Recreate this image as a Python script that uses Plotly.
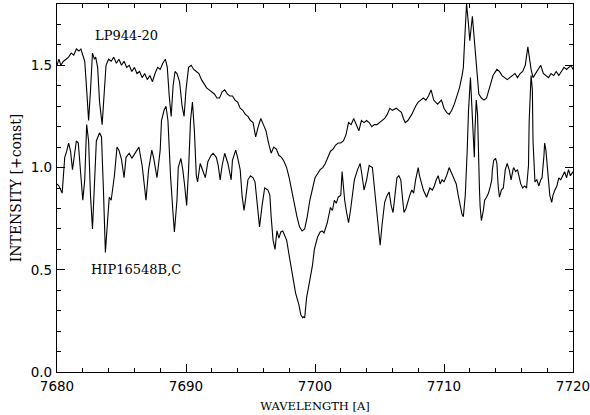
import plotly.graph_objects as go

# LP944-20 (upper spectrum)
lp_wave = [7680.0, 7680.15, 7680.3, 7680.5, 7680.7, 7680.9, 7681.1, 7681.3, 7681.5, 7681.7, 7681.85,
           7682.0, 7682.15, 7682.3, 7682.45, 7682.6, 7682.75, 7682.9, 7683.0, 7683.15, 7683.3, 7683.5,
           7683.65, 7683.8, 7684.0, 7684.2, 7684.4, 7684.6, 7684.8, 7685.0, 7685.2, 7685.4, 7685.6,
           7685.8, 7686.0, 7686.2, 7686.4, 7686.6, 7686.8, 7687.0, 7687.2, 7687.4, 7687.6, 7687.8,
           7688.0, 7688.2, 7688.4, 7688.55, 7688.7, 7688.85, 7689.0, 7689.15, 7689.3, 7689.5, 7689.7,
           7689.85, 7690.0, 7690.2, 7690.4, 7690.6, 7690.8, 7691.0, 7691.2, 7691.4, 7691.6, 7691.8,
           7692.0, 7692.2, 7692.4, 7692.6, 7692.8, 7693.0, 7693.2, 7693.4, 7693.6, 7693.8, 7694.0,
           7694.2, 7694.4, 7694.6, 7694.8, 7695.0, 7695.2, 7695.4, 7695.6, 7695.8, 7696.0, 7696.2,
           7696.4, 7696.6, 7696.8, 7697.0, 7697.2, 7697.4, 7697.6, 7697.8, 7698.0, 7698.2, 7698.4,
           7698.6, 7698.8, 7699.0, 7699.2, 7699.4, 7699.6, 7699.8, 7700.0, 7700.2, 7700.4, 7700.6,
           7700.8, 7701.0, 7701.2, 7701.4, 7701.6, 7701.8, 7702.0, 7702.2, 7702.4, 7702.6, 7702.8,
           7703.0, 7703.2, 7703.4, 7703.6, 7703.8, 7704.0, 7704.2, 7704.4, 7704.6, 7704.8, 7705.0,
           7705.2, 7705.4, 7705.6, 7705.8, 7706.0, 7706.3, 7706.5, 7706.7, 7706.85, 7707.0, 7707.2,
           7707.5, 7707.8, 7708.0, 7708.2, 7708.4, 7708.6, 7708.8, 7709.0, 7709.2, 7709.5, 7709.8,
           7710.0, 7710.2, 7710.4, 7710.6, 7710.8, 7711.0, 7711.2, 7711.4, 7711.5, 7711.6, 7711.75,
           7711.9, 7712.0, 7712.2, 7712.3, 7712.5, 7712.7, 7712.9, 7713.1, 7713.3, 7713.5, 7713.8,
           7714.1, 7714.3, 7714.5, 7714.7, 7714.9, 7715.1, 7715.3, 7715.5, 7715.7, 7715.9, 7716.1,
           7716.3, 7716.5, 7716.6, 7716.75, 7716.9, 7717.1, 7717.3, 7717.5, 7717.7, 7717.9, 7718.1,
           7718.3, 7718.5, 7718.7, 7718.9, 7719.1, 7719.3, 7719.5, 7719.7, 7719.85, 7720.0]
lp_flux = [1.50, 1.53, 1.50, 1.52, 1.53, 1.54, 1.56, 1.55, 1.58, 1.57, 1.58,
           1.55, 1.52, 1.38, 1.23, 1.38, 1.56, 1.53, 1.54, 1.49, 1.32, 1.21,
           1.38, 1.50, 1.53, 1.52, 1.54, 1.51, 1.53, 1.50, 1.52, 1.49, 1.50,
           1.47, 1.49, 1.46, 1.47, 1.44, 1.46, 1.43, 1.45, 1.42, 1.46, 1.49,
           1.48, 1.51, 1.53, 1.49, 1.35, 1.25, 1.40, 1.47, 1.46, 1.42, 1.30,
           1.25, 1.38, 1.49, 1.50, 1.48, 1.47, 1.46, 1.43, 1.41, 1.39, 1.38,
           1.37, 1.36, 1.34, 1.34, 1.37, 1.38, 1.36, 1.35, 1.35, 1.33, 1.32,
           1.29, 1.28, 1.26, 1.25, 1.23, 1.22, 1.15, 1.20, 1.24, 1.21, 1.18,
           1.12, 1.07, 1.10, 1.09, 1.06, 1.05, 1.03, 1.00, 0.95, 0.88, 0.81,
           0.76, 0.71, 0.69, 0.70, 0.76, 0.84, 0.90, 0.95, 0.97, 0.99, 1.00,
           1.02, 1.05, 1.08, 1.09, 1.11, 1.12, 1.12, 1.13, 1.16, 1.22, 1.21,
           1.24, 1.21, 1.18, 1.23, 1.22, 1.23, 1.22, 1.20, 1.21, 1.21, 1.22,
           1.23, 1.24, 1.26, 1.29, 1.28, 1.29, 1.28, 1.27, 1.24, 1.22, 1.23,
           1.26, 1.30, 1.32, 1.33, 1.34, 1.33, 1.35, 1.38, 1.33, 1.31, 1.33,
           1.29, 1.27, 1.26, 1.28, 1.31, 1.35, 1.39, 1.45, 1.49, 1.62, 1.80,
           1.70, 1.62, 1.74, 1.66, 1.48, 1.36, 1.34, 1.33, 1.34, 1.38, 1.45,
           1.48, 1.47, 1.45, 1.44, 1.43, 1.44, 1.45, 1.46, 1.44, 1.46, 1.47,
           1.50, 1.59, 1.54, 1.48, 1.44, 1.46, 1.48, 1.50, 1.46, 1.45, 1.44,
           1.46, 1.45, 1.47, 1.45, 1.47, 1.49, 1.48, 1.49, 1.50, 1.48]

# HIP16548B,C (lower spectrum)
hip_wave = [7680.0, 7680.15, 7680.4, 7680.6, 7680.75, 7680.9, 7681.05, 7681.2, 7681.35, 7681.5, 7681.65,
            7681.8, 7682.0, 7682.15, 7682.3, 7682.45, 7682.6, 7682.75, 7682.9, 7683.05, 7683.3, 7683.35,
            7683.45, 7683.6, 7683.75, 7683.9, 7684.05, 7684.2, 7684.45, 7684.65, 7684.8, 7685.0, 7685.2,
            7685.35, 7685.6, 7685.8, 7686.1, 7686.35, 7686.6, 7686.9, 7687.1, 7687.35, 7687.5, 7687.75,
            7688.0, 7688.1, 7688.3, 7688.45, 7688.6, 7688.8, 7689.0, 7689.1, 7689.3, 7689.4, 7689.6,
            7689.75, 7689.9, 7690.05, 7690.2, 7690.35, 7690.5, 7690.65, 7690.8, 7690.9, 7691.1, 7691.35,
            7691.5, 7691.7, 7691.95, 7692.1, 7692.35, 7692.5, 7692.65, 7692.8, 7693.0, 7693.25, 7693.5,
            7693.6, 7693.85, 7694.0, 7694.2, 7694.35, 7694.5, 7694.65, 7694.8, 7695.0, 7695.2, 7695.35,
            7695.5, 7695.7, 7695.9, 7696.1, 7696.35, 7696.5, 7696.6, 7696.75, 7696.9, 7697.05, 7697.2,
            7697.35, 7697.5, 7697.65, 7697.8, 7698.05, 7698.3, 7698.5, 7698.75, 7698.9, 7699.05, 7699.1,
            7699.2, 7699.35, 7699.5, 7699.65, 7699.8, 7699.95, 7700.2, 7700.4, 7700.55, 7700.7, 7700.95,
            7701.2, 7701.35, 7701.5, 7701.65, 7701.8, 7702.0, 7702.1, 7702.3, 7702.45, 7702.6, 7702.75,
            7702.9, 7703.05, 7703.3, 7703.5, 7703.65, 7703.8, 7704.0, 7704.2, 7704.45, 7704.6, 7704.75,
            7704.9, 7705.05, 7705.2, 7705.4, 7705.6, 7705.75, 7705.9, 7706.05, 7706.2, 7706.35, 7706.5,
            7706.65, 7706.8, 7706.9, 7707.05, 7707.2, 7707.35, 7707.5, 7707.65, 7707.8, 7708.0, 7708.1,
            7708.25, 7708.4, 7708.65, 7708.9, 7709.1, 7709.25, 7709.4, 7709.55, 7709.7, 7709.85, 7710.0,
            7710.2, 7710.4, 7710.55, 7710.7, 7710.95, 7711.1, 7711.25, 7711.4, 7711.5, 7711.65, 7711.8,
            7711.9, 7712.05, 7712.1, 7712.2, 7712.3, 7712.35, 7712.4, 7712.5, 7712.6, 7712.65, 7712.75,
            7712.8, 7712.9, 7713.05, 7713.15, 7713.3, 7713.45, 7713.6, 7713.7, 7713.75, 7713.85, 7714.0,
            7714.1, 7714.2, 7714.3, 7714.45, 7714.6, 7714.75, 7714.9, 7715.05, 7715.2, 7715.35, 7715.4,
            7715.55, 7715.7, 7715.95, 7716.1, 7716.25, 7716.4, 7716.55, 7716.6, 7716.75, 7716.85, 7716.9,
            7717.05, 7717.2, 7717.35, 7717.5, 7717.6, 7717.75, 7717.8, 7717.9, 7718.05, 7718.2, 7718.35,
            7718.45, 7718.6, 7718.75, 7718.9, 7719.05, 7719.2, 7719.35, 7719.5, 7719.65, 7719.8, 7720.0]
hip_flux = [0.92, 0.91, 0.875, 1.05, 1.08, 1.12, 1.08, 0.99, 1.06, 1.13, 1.12,
            1.01, 0.84, 0.94, 1.21, 1.13, 0.86, 0.70, 0.94, 1.13, 1.17, 1.16,
            1.15, 0.89, 0.585, 0.72, 0.855, 0.84, 0.96, 1.10, 1.085, 1.04, 0.95,
            1.05, 1.07, 1.045, 1.075, 1.10, 1.01, 0.84, 0.99, 1.085, 1.045, 0.95,
            1.085, 1.23, 1.28, 1.30, 1.23, 0.96, 0.77, 0.685, 0.84, 1.00, 1.045,
            0.99, 0.91, 0.815, 0.99, 1.23, 1.32, 1.18, 0.96, 0.93, 1.02, 0.98,
            0.95, 1.03, 1.06, 1.07, 1.05, 1.01, 0.94, 1.01, 1.07, 1.02, 0.94,
            1.035, 1.085, 1.05, 0.99, 0.86, 0.79, 0.86, 0.94, 0.96, 0.95, 0.93,
            0.84, 0.71, 0.815, 0.90, 0.89, 0.865, 0.76, 0.645, 0.60, 0.69, 0.655,
            0.685, 0.69, 0.67, 0.645, 0.55, 0.45, 0.385, 0.33, 0.28, 0.265, 0.27,
            0.265, 0.365, 0.415, 0.465, 0.52, 0.60, 0.66, 0.685, 0.69, 0.68, 0.73,
            0.805, 0.79, 0.84, 0.825, 0.855, 0.865, 0.98, 0.84, 0.78, 0.73, 0.79,
            0.865, 0.94, 0.99, 1.02, 0.96, 0.89, 0.94, 1.01, 1.00, 0.91, 0.83,
            0.72, 0.62, 0.72, 0.83, 0.865, 0.88, 0.815, 0.78, 0.865, 0.95, 0.96,
            0.94, 0.84, 0.78, 0.80, 0.84, 0.865, 0.89, 0.875, 0.94, 1.00, 0.96,
            0.92, 0.89, 0.855, 0.90, 0.89, 0.91, 0.94, 0.96, 0.92, 0.94, 0.93,
            0.96, 1.00, 0.98, 0.96, 0.92, 0.865, 0.81, 0.77, 0.76, 0.865, 1.085,
            1.28, 1.44, 1.38, 1.25, 1.13, 1.05, 1.18, 1.33, 1.26, 1.085, 0.89,
            0.81, 0.74, 0.79, 0.84, 0.855, 0.875, 0.91, 0.94, 0.99, 1.035, 1.045,
            1.02, 0.91, 0.855, 0.89, 0.90, 0.99, 1.02, 0.99, 0.94, 0.99, 1.00,
            0.98, 0.99, 0.92, 0.90, 0.91, 0.90, 1.01, 1.22, 1.45, 1.38, 1.13,
            0.93, 0.94, 0.91, 0.94, 0.95, 1.06, 1.12, 1.085, 0.97, 0.865, 0.83,
            0.865, 0.89, 0.91, 0.95, 0.94, 0.96, 0.98, 0.95, 0.99, 0.96, 0.98]

x_ticks = [7680, 7690, 7700, 7710, 7720]
y_ticks = [0.0, 0.5, 1.0, 1.5]
y_tick_text = ["0.0", "0.5", "1.0", "1.5"]

fig = go.Figure()
fig.add_trace(go.Scatter(x=lp_wave, y=lp_flux, mode="lines",
                         line=dict(color="black", width=1.1), showlegend=False))
fig.add_trace(go.Scatter(x=hip_wave, y=hip_flux, mode="lines",
                         line=dict(color="black", width=1.1), showlegend=False))

serif = "DejaVu Serif, serif"
sans = "DejaVu Sans, sans-serif"

fig.add_annotation(x=7685.35, y=1.645, text="LP944-20", showarrow=False,
                   font=dict(family=serif, size=13, color="black"))
fig.add_annotation(x=7686.1, y=0.50, text="HIP16548B,C", showarrow=False,
                   font=dict(family=serif, size=13, color="black"))

axis_common = dict(showline=True, linecolor="black", linewidth=1.2, mirror="allticks",
                   ticks="inside", ticklen=8, tickwidth=1, tickcolor="black",
                   showgrid=False, zeroline=False, ticklabeloverflow="allow",
                   automargin=False,
                   tickfont=dict(family=sans, size=13.5, color="black"))

fig.update_xaxes(range=[7680, 7720], tickvals=x_ticks,
                 minor=dict(dtick=2, ticks="inside", ticklen=4, tickcolor="black", tickwidth=1),
                 title=dict(text="WAVELENGTH [A]", font=dict(family=serif, size=11.5, color="black"),
                            standoff=8),
                 ticklabelstandoff=2,
                 **axis_common)
fig.update_yaxes(range=[0, 1.8], tickvals=y_ticks, ticktext=y_tick_text,
                 minor=dict(dtick=0.1, ticks="inside", ticklen=4, tickcolor="black", tickwidth=1),
                 title=dict(text="INTENSITY [+const]", font=dict(family=serif, size=14, color="black"),
                            standoff=5),
                 ticklabelstandoff=1,
                 **axis_common)

fig.update_layout(width=590, height=415, margin=dict(l=57, r=17, t=4, b=43),
                  plot_bgcolor="white", paper_bgcolor="white")

fig.write_html("out.html", config={"displayModeBar": False},
               post_script="document.body.style.margin='0';")
